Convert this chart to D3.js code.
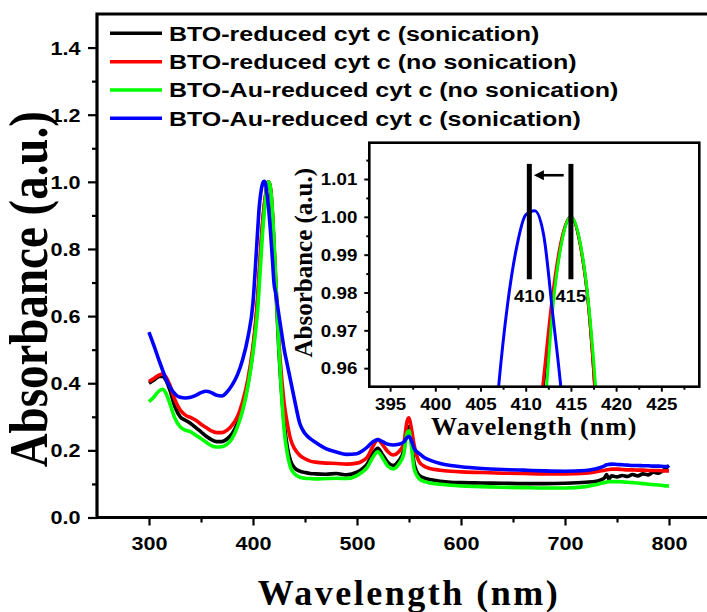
<!DOCTYPE html>
<html><head><meta charset="utf-8">
<script src="https://cdn.jsdelivr.net/npm/d3@7"></script>
<style>body{margin:0;background:#fff}svg{display:block}</style>
</head><body>
<svg id="chart" width="707" height="612"></svg>
<script>
// ---------------- DATA ----------------
const wavelengths = [300,305,310,313,316,320,325,330,335,340,345,350,355,360,365,370,375,380,385,390,395,400,
  403,405,
  406,407,408,409,410,411,412,413,414,415,416,417,418,419,420,
  422,425,428,430,433,436,440,445,450,455,460,
  470,480,490,500,505,510,515,520,525,530,535,540,545,548,550,552,555,560,565,570,
  580,590,600,620,640,660,680,700,720,730,
  735,738,740,742,745,750,755,760,765,770,775,780,785,790,795,800];

const btoSonication = [0.40,0.41,0.42,0.42,0.41,0.38,0.33,0.30,0.29,0.28,0.268,0.255,0.242,0.232,0.226,0.226,0.234,0.25,0.28,0.325,0.395,0.50,
  0.59,0.67,
  0.72,0.77,0.82,0.865,0.90,0.932,0.956,0.978,0.994,1.0,0.993,0.975,0.94,0.885,0.82,
  0.68,0.49,0.35,0.28,0.21,0.17,0.148,0.138,0.134,0.131,0.13,
  0.129,0.131,0.127,0.135,0.145,0.16,0.19,0.206,0.185,0.163,0.155,0.168,0.20,0.262,0.27,0.235,0.16,0.125,0.117,0.113,
  0.108,0.105,0.104,0.103,0.102,0.101,0.101,0.102,0.105,0.108,
  0.113,0.118,0.128,0.115,0.124,0.121,0.125,0.122,0.128,0.124,0.13,0.127,0.135,0.132,0.142,0.155];

const btoNoSonication = [0.405,0.415,0.425,0.427,0.42,0.395,0.35,0.32,0.305,0.298,0.29,0.278,0.268,0.258,0.253,0.253,0.26,0.275,0.30,0.345,0.41,0.51,
  0.60,0.68,
  0.73,0.78,0.83,0.87,0.905,0.935,0.958,0.98,0.9945,1.0,0.993,0.975,0.94,0.89,0.83,
  0.70,0.52,0.40,0.34,0.28,0.235,0.205,0.185,0.175,0.168,0.165,
  0.162,0.161,0.159,0.162,0.168,0.18,0.21,0.232,0.215,0.195,0.186,0.195,0.22,0.285,0.297,0.27,0.215,0.165,0.152,0.146,
  0.141,0.138,0.136,0.134,0.132,0.131,0.13,0.13,0.132,0.136,
  0.139,0.141,0.142,0.143,0.144,0.144,0.143,0.142,0.142,0.141,0.141,0.14,0.14,0.14,0.139,0.139];

const btoAuNoSonication = [0.345,0.36,0.378,0.382,0.372,0.34,0.295,0.27,0.26,0.255,0.245,0.235,0.224,0.214,0.21,0.211,0.218,0.236,0.27,0.318,0.39,0.49,
  0.57,0.64,
  0.69,0.74,0.79,0.84,0.88,0.915,0.945,0.976,0.9935,1.0,0.9935,0.976,0.945,0.895,0.835,
  0.70,0.50,0.34,0.26,0.19,0.15,0.13,0.12,0.117,0.116,0.115,
  0.116,0.117,0.116,0.125,0.135,0.15,0.178,0.196,0.175,0.152,0.145,0.158,0.19,0.25,0.258,0.22,0.145,0.115,0.107,0.103,
  0.099,0.096,0.094,0.092,0.09,0.089,0.088,0.088,0.092,0.098,
  0.102,0.104,0.106,0.107,0.107,0.107,0.106,0.105,0.104,0.103,0.101,0.099,0.098,0.097,0.095,0.094];

const btoAuSonication = [0.552,0.51,0.465,0.44,0.415,0.39,0.368,0.358,0.356,0.358,0.364,0.372,0.376,0.372,0.364,0.362,0.374,0.395,0.425,0.47,0.535,0.64,
  0.78,0.88,
  0.925,0.955,0.977,0.992,1.0005,1.0016,0.995,0.974,0.952,0.92,0.885,0.845,0.80,0.755,0.705,
  0.665,0.60,0.54,0.50,0.455,0.41,0.35,0.28,0.25,0.235,0.224,
  0.205,0.195,0.188,0.19,0.198,0.21,0.225,0.232,0.225,0.218,0.216,0.218,0.225,0.238,0.242,0.232,0.205,0.19,0.178,0.171,
  0.161,0.155,0.151,0.146,0.143,0.141,0.139,0.138,0.14,0.145,
  0.150,0.154,0.157,0.158,0.159,0.158,0.157,0.156,0.155,0.155,0.154,0.154,0.153,0.153,0.152,0.152];

const seriesNames = ["BTO-reduced cyt c (sonication)","BTO-reduced cyt c (no sonication)",
  "BTO-Au-reduced cyt c (no sonication)","BTO-Au-reduced cyt c (sonication)"];
const seriesColors = ["#000000","#ff0000","#00ff00","#0000ff"];

const xTickValues = [300,400,500,600,700,800];
const xMinorTicks = [350,450,550,650,750,850];
const yTickValues = [0.0,0.2,0.4,0.6,0.8,1.0,1.2,1.4];
const yMinorTicks = [0.1,0.3,0.5,0.7,0.9,1.1,1.3];

const insetXTicks = [395,400,405,410,415,420,425];
const insetXMinor = [397.5,402.5,407.5,412.5,417.5,422.5,427.5];
const insetYTicks = [0.96,0.97,0.98,0.99,1.00,1.01];
const insetYMinor = [0.965,0.975,0.985,0.995,1.005,1.015];
const peakMarkers = [410.4, 415];
const peakLabels = ["410","415"];
const markerRange = [0.9835, 1.014];
const arrowFromTo = [414.2, 410.9];
const arrowLevel = 1.011;

// ---------------- DRAW ----------------
const svg = d3.select("#chart");
const SANS = "'Liberation Sans', Arial, sans-serif";
const SERIF = "'Liberation Serif', 'Times New Roman', serif";
const seriesData = [btoSonication, btoNoSonication, btoAuNoSonication, btoAuSonication];

const x = d3.scaleLinear().domain([250, 850]).range([97, 721]);
const y = d3.scaleLinear().domain([0, 1.5]).range([517.5, 14]);

const defs = svg.append("defs");
defs.append("clipPath").attr("id","mainClip").append("rect")
  .attr("x",x.range()[0]).attr("y",y.range()[1]).attr("width",x.range()[1]-x.range()[0]).attr("height",y.range()[0]-y.range()[1]);

function stretched(g, txt, px, py, size, anchor, sx, family, weight, rotate, sy){
  return g.append("text")
    .attr("transform", `translate(${px},${py})` + (rotate ? ` rotate(${rotate})` : "") + ` scale(${sx},${sy||1})`)
    .attr("text-anchor", anchor).attr("font-family", family).attr("font-weight", weight||"bold")
    .attr("font-size", size).attr("fill","#000").text(txt);
}

// main curves
const mainLine = (vals) => d3.line().x((d,i)=>x(wavelengths[i])).y(d=>y(d)).curve(d3.curveMonotoneX)(vals);
const gLines = svg.append("g").attr("clip-path","url(#mainClip)");
seriesData.forEach((vals, k) => {
  gLines.append("path").attr("d", mainLine(vals)).attr("fill","none")
    .attr("stroke", seriesColors[k]).attr("stroke-width", 3.6).attr("stroke-linejoin","round");
});

// axes
const bottomY = y(0), leftX = x(250);
const gx = svg.append("g").attr("transform",`translate(0,${bottomY})`);
gx.call(d3.axisBottom(x).tickValues(xTickValues).tickSize(8).tickFormat(d3.format("d")));
const gxm = svg.append("g").attr("transform",`translate(0,${bottomY})`);
gxm.call(d3.axisBottom(x).tickValues(xMinorTicks).tickSize(5).tickFormat(""));
const gy = svg.append("g").attr("transform",`translate(${leftX},0)`);
gy.call(d3.axisLeft(y).tickValues(yTickValues).tickSize(9).tickFormat(d3.format(".1f")));
const gym = svg.append("g").attr("transform",`translate(${leftX},0)`);
gym.call(d3.axisLeft(y).tickValues(yMinorTicks).tickSize(5).tickFormat(""));
[gx,gxm,gy,gym].forEach(g => {
  g.select(".domain").remove();
  g.selectAll(".tick line").attr("stroke","#000").attr("stroke-width",2.2);
});
const sxMain = 1.2;
gx.selectAll(".tick text").attr("font-family",SANS).attr("font-weight","bold").attr("font-size",18)
  .attr("fill","#000").attr("y",32.5).attr("dy",null).attr("transform",`scale(${sxMain},1)`);
gy.selectAll(".tick text").attr("font-family",SANS).attr("font-weight","bold").attr("font-size",18)
  .attr("fill","#000").attr("x",-16.5/sxMain).attr("dy","0.36em").attr("transform",`scale(${sxMain},1)`);

// frame
svg.append("path").attr("d",`M${leftX},${bottomY} L${leftX},${y(1.5)} L${x(850)},${y(1.5)} L${x(850)},${bottomY} Z`)
  .attr("fill","none").attr("stroke","#000").attr("stroke-width",3.2);

// axis titles
stretched(svg, "Wavelength (nm)", x(550), 605, 36, "middle", 1.0, SERIF, "bold").attr("letter-spacing", 2.5);
stretched(svg, "Absorbance (a.u.)", 47, y(0.68), 47, "middle", 1.0, SERIF, "bold", -90, 1.15);

// legend
const legendRowsY = [33.3, 61.7, 90, 118.3];
seriesNames.forEach((name, k) => {
  svg.append("line").attr("x1",110).attr("x2",162).attr("y1",legendRowsY[k]).attr("y2",legendRowsY[k])
    .attr("stroke",seriesColors[k]).attr("stroke-width",3.4);
  stretched(svg, name, 169, legendRowsY[k] + 7.2, 20, "start", 1.25, SANS, "bold");
});

// ---------------- INSET ----------------
const ix = d3.scaleLinear().domain([392.7, 429.2]).range([369.3, 699.3]);
const iy = d3.scaleLinear().domain([0.9551, 1.0196]).range([386.7, 142.7]);
const gIn = svg.append("g");
gIn.append("rect").attr("x",ix.range()[0]).attr("y",iy.range()[1])
  .attr("width",ix.range()[1]-ix.range()[0]).attr("height",iy.range()[0]-iy.range()[1]).attr("fill","#fff");
defs.append("clipPath").attr("id","insetClip").append("rect")
  .attr("x",ix.range()[0]).attr("y",iy.range()[1]).attr("width",ix.range()[1]-ix.range()[0]).attr("height",iy.range()[0]-iy.range()[1]);
const insetLine = (vals) => d3.line().x((d,i)=>ix(wavelengths[i])).y(d=>iy(d)).curve(d3.curveMonotoneX)(vals);
const gInLines = gIn.append("g").attr("clip-path","url(#insetClip)");
seriesData.forEach((vals, k) => {
  gInLines.append("path").attr("d", insetLine(vals)).attr("fill","none")
    .attr("stroke", seriesColors[k]).attr("stroke-width", 3).attr("stroke-linejoin","round");
});
// markers
peakMarkers.forEach((m, k) => {
  gIn.append("line").attr("x1",ix(m)).attr("x2",ix(m)).attr("y1",iy(markerRange[1])).attr("y2",iy(markerRange[0]))
    .attr("stroke","#000").attr("stroke-width",5);
  stretched(gIn, peakLabels[k], ix(m), iy(markerRange[0]) + 23, 16, "middle", 1.15, SANS, "bold");
});
const ax0 = ix(arrowFromTo[0]), ax1 = ix(arrowFromTo[1]), ay = iy(arrowLevel);
gIn.append("line").attr("x1",ax0).attr("x2",ax1+8).attr("y1",ay).attr("y2",ay).attr("stroke","#000").attr("stroke-width",2.6);
gIn.append("path").attr("d",`M${ax1},${ay} L${ax1+10},${ay-5} L${ax1+10},${ay+5} Z`).attr("fill","#000");

// inset axes
const iBottom = iy.range()[0], iLeft = ix.range()[0];
const igx = gIn.append("g").attr("transform",`translate(0,${iBottom})`);
igx.call(d3.axisBottom(ix).tickValues(insetXTicks).tickSize(5).tickFormat(d3.format("d")));
const igxm = gIn.append("g").attr("transform",`translate(0,${iBottom})`);
igxm.call(d3.axisBottom(ix).tickValues(insetXMinor).tickSize(3).tickFormat(""));
const igy = gIn.append("g").attr("transform",`translate(${iLeft},0)`);
igy.call(d3.axisLeft(iy).tickValues(insetYTicks).tickSize(5).tickFormat(d3.format(".2f")));
const igym = gIn.append("g").attr("transform",`translate(${iLeft},0)`);
igym.call(d3.axisLeft(iy).tickValues(insetYMinor).tickSize(3).tickFormat(""));
[igx,igxm,igy,igym].forEach(g => {
  g.select(".domain").remove();
  g.selectAll(".tick line").attr("stroke","#000").attr("stroke-width",2);
});
const sxIn = 1.17;
igx.selectAll(".tick text").attr("font-family",SANS).attr("font-weight","bold").attr("font-size",16)
  .attr("fill","#000").attr("y",23).attr("dy",null).attr("transform",`scale(${sxIn},1)`);
igy.selectAll(".tick text").attr("font-family",SANS).attr("font-weight","bold").attr("font-size",16)
  .attr("fill","#000").attr("x",-12/sxIn).attr("dy","0.36em").attr("transform",`scale(${sxIn},1)`);
gIn.append("rect").attr("x",ix.range()[0]).attr("y",iy.range()[1])
  .attr("width",ix.range()[1]-ix.range()[0]).attr("height",iy.range()[0]-iy.range()[1])
  .attr("fill","none").attr("stroke","#000").attr("stroke-width",2.6);
stretched(gIn, "Wavelength (nm)", (ix.range()[0]+ix.range()[1])/2, 435, 26, "middle", 1.0, SERIF, "bold").attr("letter-spacing",1);
stretched(gIn, "Absorbance (a.u.)", 312, (iy.range()[0]+iy.range()[1])/2 - 2, 25, "middle", 1.0, SERIF, "bold", -90);
</script>
</body></html>
